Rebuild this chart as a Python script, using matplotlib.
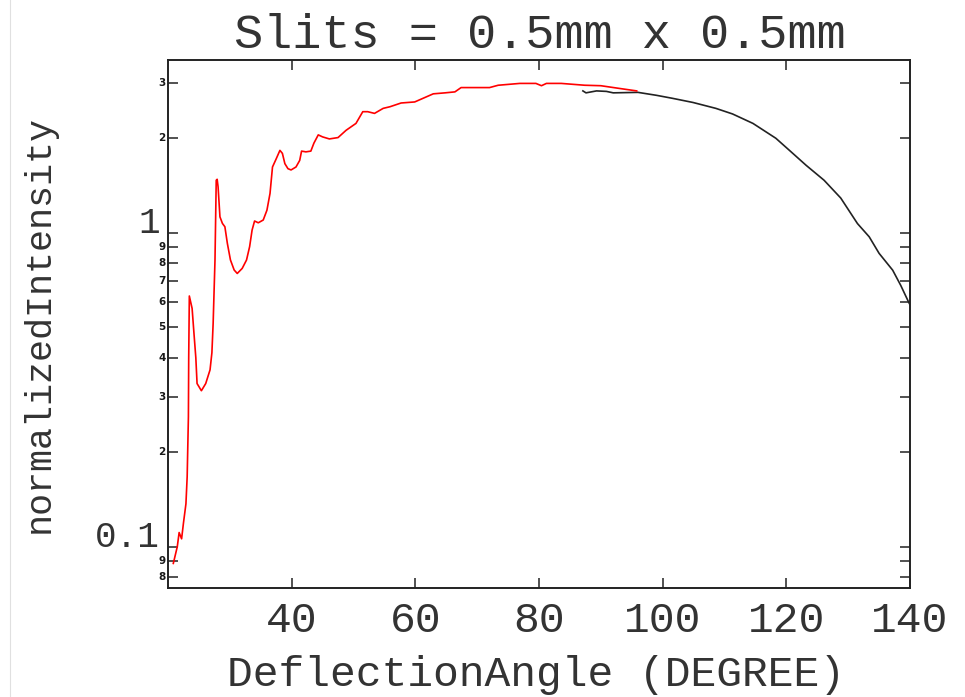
import matplotlib
matplotlib.use("Agg")
import matplotlib.pyplot as plt
from matplotlib.ticker import FixedLocator, NullFormatter, FixedFormatter
from matplotlib.transforms import blended_transform_factory
from matplotlib.lines import Line2D

# ---------------- data ----------------
red_x = [20.86, 21.5, 21.8, 22.2, 22.5, 22.9, 23.1, 23.3, 23.35, 23.45, 23.9, 24.2,
         24.5, 24.7, 25.4, 26.1, 26.8, 27.1, 27.3, 27.6, 27.8, 27.95, 28.1, 28.4,
         28.8, 29.2, 29.6, 30.1, 30.7, 31.2, 32.0, 32.7, 33.2, 33.6, 34.0, 34.6,
         35.4, 36.0, 36.5, 36.9, 37.5, 38.1, 38.5, 38.9, 39.4, 39.9, 40.7, 41.3,
         41.6, 42.3, 43.1, 43.6, 44.3, 45.0, 46.1, 47.5, 48.8, 50.4, 51.5, 52.3,
         53.4, 54.8, 55.9, 57.7, 59.9, 62.9, 64.8, 66.4, 67.4, 72.0, 73.4, 76.9,
         79.5, 80.4, 81.2, 83.6, 87.4, 90.0, 93.1, 95.8]
red_y = [0.0885, 0.100, 0.111, 0.106, 0.119, 0.137, 0.167, 0.259, 0.40, 0.629, 0.574, 0.478,
         0.40, 0.331, 0.314, 0.331, 0.366, 0.415, 0.514, 0.819, 1.47, 1.48, 1.40, 1.124,
         1.071, 1.045, 0.925, 0.819, 0.761, 0.742, 0.770, 0.819, 0.903, 1.02, 1.09, 1.076,
         1.098, 1.18, 1.335, 1.62, 1.72, 1.83, 1.79, 1.66, 1.60, 1.585, 1.62, 1.70,
         1.82, 1.81, 1.82, 1.93, 2.05, 2.02, 1.99, 2.01, 2.12, 2.23, 2.43, 2.43,
         2.40, 2.49, 2.52, 2.59, 2.61, 2.77, 2.79, 2.81, 2.90, 2.90, 2.95, 2.99,
         2.99, 2.94, 2.99, 2.99, 2.95, 2.94, 2.88, 2.83]

black_x = [87.1, 87.6, 89.3, 90.9, 92.0, 96.0, 99.0, 101.6, 104.9, 108.6, 111.3, 114.6,
           118.3, 120.5, 123.2, 126.1, 128.8, 131.5, 133.4, 135.0, 137.2, 138.5, 139.8, 140.0]
black_y = [2.83, 2.79, 2.83, 2.82, 2.79, 2.80, 2.74, 2.68, 2.60, 2.49, 2.39, 2.23,
           2.00, 1.83, 1.64, 1.47, 1.29, 1.07, 0.971, 0.86, 0.76, 0.68, 0.60, 0.59]

x_ticks = [40, 60, 80, 100, 120, 140]
x_tick_labels = ["40", "60", "80", "100", "120", "140"]
y_major = [0.1, 1.0]
y_major_labels = ["0.1", "1"]
y_minor = [0.08, 0.09, 0.2, 0.3, 0.4, 0.5, 0.6, 0.7, 0.8, 0.9, 2.0, 3.0]
y_minor_labels = ["8", "9", "2", "3", "4", "5", "6", "7", "8", "9", "2", "3"]

title = "Slits = 0.5mm x 0.5mm"
xlabel = "DeflectionAngle (DEGREE)"
ylabel = "normalizedIntensity"

# ---------------- figure ----------------
W, H = 965, 697
fig = plt.figure(figsize=(W / 100, H / 100), dpi=100)
fig.patch.set_facecolor("white")
ax = fig.add_axes([168 / W, 1 - 588 / H, (910 - 168) / W, (588 - 60) / H])

BIG = "Liberation Mono"
TXT = "#333333"

ax.plot(red_x, red_y, color="#ff0000", lw=1.2, zorder=3)
ax.plot(black_x, black_y, color="#222222", lw=1.2, zorder=2)

ax.set_yscale("log")
ax.set_xlim(20, 140)
ax.set_ylim(0.0739, 3.55)

for s in ax.spines.values():
    s.set_linewidth(1.4)
    s.set_color("#222222")

ax.xaxis.set_major_locator(FixedLocator(x_ticks))
ax.xaxis.set_major_formatter(FixedFormatter(x_tick_labels))
ax.xaxis.set_minor_locator(FixedLocator([]))
ax.yaxis.set_major_locator(FixedLocator(y_major))
ax.yaxis.set_minor_locator(FixedLocator(y_minor))
ax.yaxis.set_major_formatter(NullFormatter())
ax.yaxis.set_minor_formatter(NullFormatter())

ax.tick_params(which="both", direction="in", top=True, right=True,
               length=7.2, width=1.1, color="#222222")
ax.tick_params(axis="x", pad=9, labelsize=31, labelcolor=TXT)
for lab in ax.get_xticklabels():
    lab.set_fontfamily(BIG)

trans = blended_transform_factory(ax.transAxes, ax.transData)
for v, t in zip(y_major, y_major_labels):
    ax.text(-0.011, v, t, transform=trans, ha="right", va="baseline",
            fontsize=26, family=BIG, color=TXT)
for v, t in zip(y_minor, y_minor_labels):
    ax.text(-0.003, v, t, transform=trans, ha="right", va="center",
            fontsize=7.5, fontweight="bold", family="DejaVu Sans", color="#1a1a1a")

fig.text(540 / W, 1 - 48 / H, title, ha="center", va="baseline",
         fontsize=35, family=BIG, color=TXT)
fig.text(536 / W, 1 - 686 / H, xlabel, ha="center", va="baseline",
         fontsize=31, family=BIG, color=TXT)
fig.text(39 / W, 1 - 324 / H, ylabel, ha="center", va="center", rotation=90,
         fontsize=26.5, family=BIG, color=TXT)

# faint screenshot border on the left
fig.add_artist(Line2D([9.5 / W, 9.5 / W], [0, 1], transform=fig.transFigure,
                      color="#e0e0e0", lw=0.8))

fig.savefig("out.png", dpi=100, facecolor="white")
